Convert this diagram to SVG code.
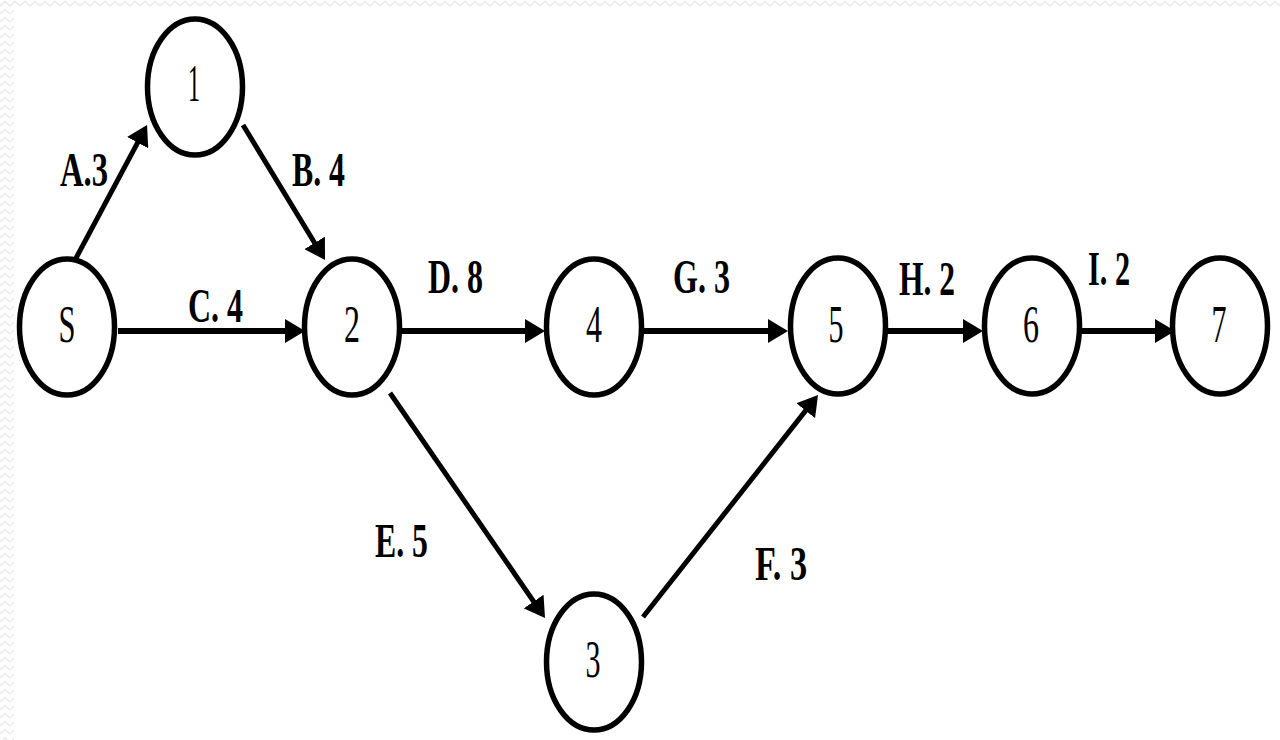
<svg xmlns="http://www.w3.org/2000/svg" width="1280" height="740" viewBox="0 0 1280 740">
  <style>
    .node ellipse { fill: #ffffff; stroke: #000000; stroke-width: 5.5; }
    .node text { font-family: "Liberation Serif", "Times New Roman", serif; font-size: 52px; fill: #000000; text-anchor: middle; }
    .edge { stroke: #000000; stroke-width: 5; fill: none; marker-end: url(#arrow); }
    .edge.h { stroke-width: 6; }
    .lbl { font-family: "Liberation Serif", "Times New Roman", serif; font-size: 48px; font-weight: bold; fill: #000000; }
  </style>
  <defs>
    <marker id="arrow" markerUnits="userSpaceOnUse" markerWidth="22" markerHeight="24" refX="8" refY="12" orient="auto">
      <path d="M0,0 L20,12 L0,24 z" fill="#000000"/>
    </marker>
    <pattern id="zz" width="10" height="8" patternUnits="userSpaceOnUse">
      <path d="M0,6 L5,1.5 L10,6" stroke="#ebebeb" stroke-width="1.5" fill="none"/>
    </pattern>
  </defs>
  <rect x="0" y="0" width="1280" height="740" fill="#ffffff"/>
  <rect x="0" y="0" width="1280" height="9" fill="url(#zz)"/>
  <rect x="0" y="0" width="14" height="740" fill="url(#zz)"/>

  <g id="connectors">
    <line id="e-A" class="edge" x1="75" y1="260" x2="141.4" y2="135.6"/>
    <line id="e-B" class="edge" x1="243" y1="125" x2="318.8" y2="249.7"/>
    <line id="e-C" class="edge h" x1="118" y1="331" x2="293" y2="331"/>
    <line id="e-D" class="edge h" x1="401" y1="331" x2="533" y2="331"/>
    <line id="e-G" class="edge h" x1="643" y1="331" x2="776" y2="331"/>
    <line id="e-H" class="edge h" x1="887" y1="331" x2="971" y2="331"/>
    <line id="e-I" class="edge h" x1="1081" y1="331" x2="1163" y2="331"/>
    <line id="e-E" class="edge" x1="390" y1="393" x2="538.2" y2="608.1"/>
    <line id="e-F" class="edge" x1="643" y1="617" x2="810.6" y2="404.4"/>
    <text class="lbl" x="60" y="186" textLength="48" lengthAdjust="spacingAndGlyphs">A.3</text>
    <text class="lbl" x="292" y="186" textLength="53" lengthAdjust="spacingAndGlyphs">B. 4</text>
    <text class="lbl" x="188" y="322" textLength="55" lengthAdjust="spacingAndGlyphs">C. 4</text>
    <text class="lbl" x="428" y="293" textLength="55" lengthAdjust="spacingAndGlyphs">D. 8</text>
    <text class="lbl" x="673" y="293" textLength="57" lengthAdjust="spacingAndGlyphs">G. 3</text>
    <text class="lbl" x="899" y="295" textLength="56" lengthAdjust="spacingAndGlyphs">H. 2</text>
    <text class="lbl" x="1088" y="285" textLength="42" lengthAdjust="spacingAndGlyphs">I. 2</text>
    <text class="lbl" x="375" y="557" textLength="53" lengthAdjust="spacingAndGlyphs">E. 5</text>
    <text class="lbl" x="755" y="580" textLength="52" lengthAdjust="spacingAndGlyphs">F. 3</text>
  </g>

  <g id="node-S" class="node">
    <ellipse cx="67" cy="327" rx="47.5" ry="68"/>
    <text x="67" y="342" textLength="17" lengthAdjust="spacingAndGlyphs">S</text>
  </g>
  <g id="node-1" class="node">
    <ellipse cx="195" cy="87" rx="47.5" ry="68"/>
    <text x="194" y="101" textLength="12" lengthAdjust="spacingAndGlyphs">1</text>
  </g>
  <g id="node-2" class="node">
    <ellipse cx="352" cy="327" rx="47.5" ry="68"/>
    <text x="352" y="342" textLength="16" lengthAdjust="spacingAndGlyphs">2</text>
  </g>
  <g id="node-4" class="node">
    <ellipse cx="594" cy="327" rx="47.5" ry="68"/>
    <text x="594" y="342" textLength="16" lengthAdjust="spacingAndGlyphs">4</text>
  </g>
  <g id="node-5" class="node">
    <ellipse cx="838" cy="326" rx="47.5" ry="68"/>
    <text x="836" y="342" textLength="15" lengthAdjust="spacingAndGlyphs">5</text>
  </g>
  <g id="node-6" class="node">
    <ellipse cx="1032" cy="326" rx="47.5" ry="68"/>
    <text x="1031" y="342" textLength="16" lengthAdjust="spacingAndGlyphs">6</text>
  </g>
  <g id="node-7" class="node">
    <ellipse cx="1220" cy="326" rx="47.5" ry="68"/>
    <text x="1219" y="342" textLength="15" lengthAdjust="spacingAndGlyphs">7</text>
  </g>
  <g id="node-3" class="node">
    <ellipse cx="594" cy="662" rx="47.5" ry="68"/>
    <text x="593" y="677" textLength="15" lengthAdjust="spacingAndGlyphs">3</text>
  </g>
</svg>
